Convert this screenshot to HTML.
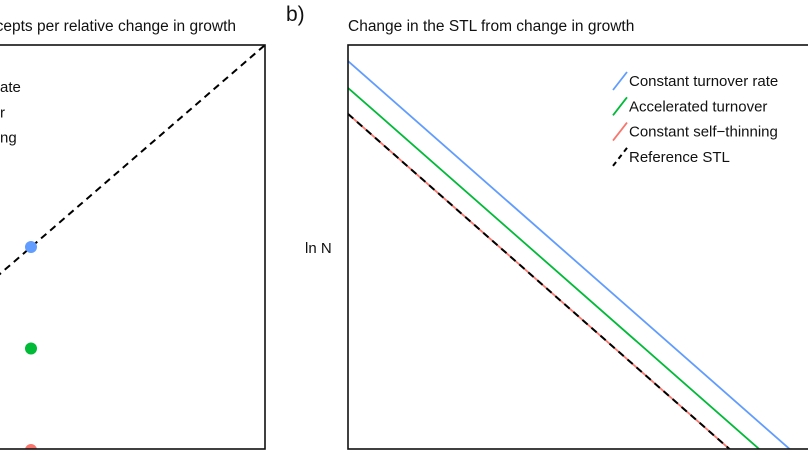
<!DOCTYPE html>
<html><head><meta charset="utf-8"><style>
html,body{margin:0;padding:0;background:#fff;overflow:hidden;}
svg{display:block;font-family:"Liberation Sans",Arial,sans-serif;}
</style></head><body>
<svg id="chart" width="808" height="455" viewBox="0 0 808 455">
<defs>
 <clipPath id="ca"><rect x="-5" y="45" width="270" height="404"/></clipPath>
 <clipPath id="cb"><rect x="348" y="45" width="470" height="404"/></clipPath>
 <clipPath id="cAll"><rect x="0" y="0" width="808" height="455"/></clipPath>
</defs>
<g clip-path="url(#cAll)">
<g id="panelA">
 <text x="236" y="31" font-size="15.5" text-anchor="end" fill="#111">Change in STL intercepts per relative change in growth</text>
 <g id="marksA" clip-path="url(#ca)"></g>
 <rect x="-5" y="45" width="270" height="404" fill="none" stroke="#111" stroke-width="1.6"/>
 <g id="legendA"></g>
</g>
<g id="panelB">
 <text x="286" y="21" font-size="21" fill="#111">b)</text>
 <text x="348" y="31" font-size="15.5" fill="#111">Change in the STL from change in growth</text>
 <text x="305" y="253" font-size="15" fill="#111">ln N</text>
 <g id="marksB" clip-path="url(#cb)"></g>
 <rect x="348" y="45" width="470" height="404" fill="none" stroke="#111" stroke-width="1.6"/>
 <g id="legendB"></g>
</g>
</g>
</svg>
<script>
const NS="http://www.w3.org/2000/svg";
const seriesNames=["Constant turnover rate","Accelerated turnover","Constant self\u2212thinning","Reference STL"];
const seriesColors=["#619CFF","#00BA38","#F8766D","#000000"];
// panel b: ln N at left edge for each series
const interceptsB=[10.57,9.84,9.13,9.13];
const slopeB=-1.125;
const xRangeB=[0,10];
// panel a: point values at the dot x position
const pointsA=[5.0,2.5,0.0];
const refA=[[-0.8,2.7],[4.9,9.975]];
const pointX=1.0;

function el(tag,attrs,parent){const e=document.createElementNS(NS,tag);for(const k in attrs)e.setAttribute(k,attrs[k]);parent.appendChild(e);return e;}

const bx=v=>348+v*47, by=v=>449-v*36.7;
const mB=document.getElementById('marksB');
const lineNames=['constant-turnover','accelerated-turnover','constant-self-thinning','reference-stl'];
for(let i=0;i<interceptsB.length;i++){
  const x0=xRangeB[0],x1=xRangeB[1];
  const ln=el('line',{x1:bx(x0),y1:by(interceptsB[i]+slopeB*x0),x2:bx(x1),y2:by(interceptsB[i]+slopeB*x1),stroke:seriesColors[i],'stroke-width':i==3?2:1.8},mB);
  if(i==3)ln.setAttribute('stroke-dasharray','7,5');
  
  
}

const lB=document.getElementById('legendB');


for(let i=0;i<4;i++){
  const y=81+i*25.3;
  const g=el('g',{},lB);
  
  
  const l=el('line',{x1:613,y1:y+9,x2:627,y2:y-9,stroke:seriesColors[i],'stroke-width':i==3?2:1.8},g);
  if(i==3)l.setAttribute('stroke-dasharray','5,4');
  const t=el('text',{x:629,y:y+5,'font-size':15,fill:'#111'},g);t.textContent=seriesNames[i];
}

const ax=v=>31+(v-pointX)*60, ay=v=>450-v*40.6;
const mA=document.getElementById('marksA');
const rl=el('line',{x1:ax(refA[0][0]),y1:ay(refA[0][1]),x2:ax(refA[1][0]),y2:ay(refA[1][1]),stroke:'#000','stroke-width':2,'stroke-dasharray':'7,5'},mA);


for(let i=0;i<pointsA.length;i++){
  const c=el('circle',{cx:ax(pointX),cy:ay(pointsA[i]),r:6,fill:seriesColors[i]},mA);
  
  
}
const lA=document.getElementById('legendA');
const frag=["ate","r","ng"];
for(let i=0;i<3;i++){
  const t=el('text',{x:0,y:92+i*25.3,'font-size':15,fill:'#111'},lA);
  t.textContent=frag[i];
  
  
}
</script>
</body></html>
